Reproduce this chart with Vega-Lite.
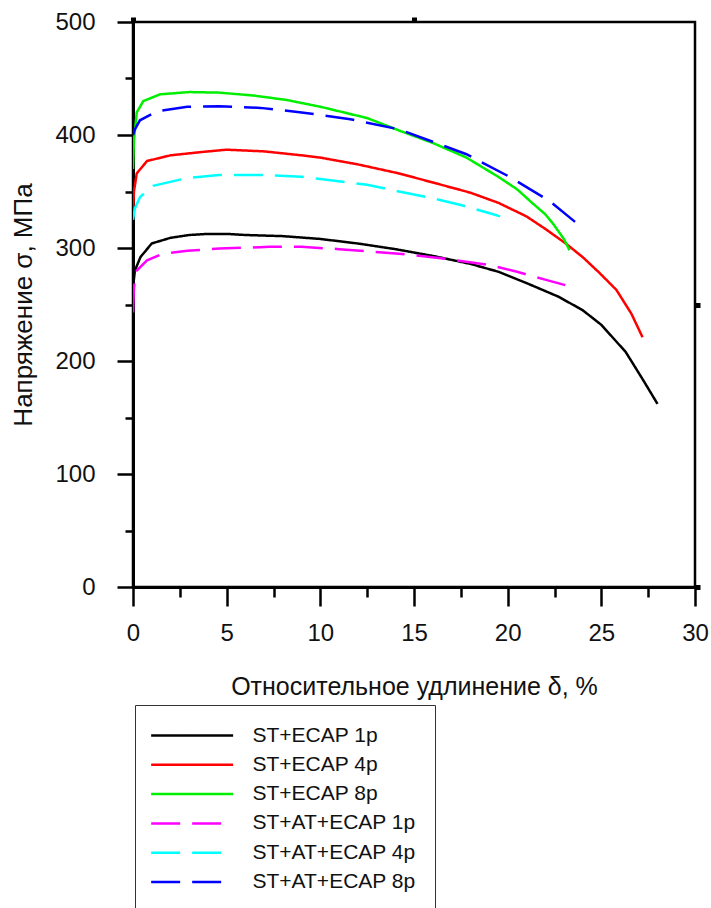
{
  "$schema": "https://vega.github.io/schema/vega-lite/v6.json",
  "autosize": {"type": "none"},
  "padding": {"left": 133, "top": 22, "right": 16, "bottom": 321},
  "width": 562,
  "height": 565,
  "background": "white",
  "config": {
    "view": {"stroke": "black", "strokeWidth": 2.5},
    "font": "Liberation Sans"
  },
  "data": {"values": [
    {"s": "ST+ECAP 1p", "x": 0, "y": 265}, {"s": "ST+ECAP 1p", "x": 0.1, "y": 280}, {"s": "ST+ECAP 1p", "x": 0.4, "y": 292}, {"s": "ST+ECAP 1p", "x": 1, "y": 304}, {"s": "ST+ECAP 1p", "x": 2, "y": 309}, {"s": "ST+ECAP 1p", "x": 3, "y": 311.5}, {"s": "ST+ECAP 1p", "x": 4, "y": 312.5}, {"s": "ST+ECAP 1p", "x": 5, "y": 312.5}, {"s": "ST+ECAP 1p", "x": 6, "y": 311.5}, {"s": "ST+ECAP 1p", "x": 8, "y": 310.5}, {"s": "ST+ECAP 1p", "x": 10, "y": 308}, {"s": "ST+ECAP 1p", "x": 12, "y": 304}, {"s": "ST+ECAP 1p", "x": 14, "y": 299}, {"s": "ST+ECAP 1p", "x": 16, "y": 293}, {"s": "ST+ECAP 1p", "x": 18, "y": 286}, {"s": "ST+ECAP 1p", "x": 19.5, "y": 279}, {"s": "ST+ECAP 1p", "x": 21, "y": 269}, {"s": "ST+ECAP 1p", "x": 22.7, "y": 257}, {"s": "ST+ECAP 1p", "x": 24, "y": 245}, {"s": "ST+ECAP 1p", "x": 25, "y": 232}, {"s": "ST+ECAP 1p", "x": 26.3, "y": 208}, {"s": "ST+ECAP 1p", "x": 27.2, "y": 184}, {"s": "ST+ECAP 1p", "x": 28, "y": 162},
    {"s": "ST+ECAP 4p", "x": 0, "y": 330}, {"s": "ST+ECAP 4p", "x": 0.05, "y": 350}, {"s": "ST+ECAP 4p", "x": 0.2, "y": 366}, {"s": "ST+ECAP 4p", "x": 0.75, "y": 377}, {"s": "ST+ECAP 4p", "x": 2, "y": 382}, {"s": "ST+ECAP 4p", "x": 3.7, "y": 385}, {"s": "ST+ECAP 4p", "x": 5, "y": 387}, {"s": "ST+ECAP 4p", "x": 7, "y": 385.5}, {"s": "ST+ECAP 4p", "x": 9, "y": 382}, {"s": "ST+ECAP 4p", "x": 10, "y": 380}, {"s": "ST+ECAP 4p", "x": 12, "y": 374}, {"s": "ST+ECAP 4p", "x": 14.2, "y": 366}, {"s": "ST+ECAP 4p", "x": 16, "y": 358}, {"s": "ST+ECAP 4p", "x": 18, "y": 349}, {"s": "ST+ECAP 4p", "x": 19.5, "y": 340}, {"s": "ST+ECAP 4p", "x": 21, "y": 328}, {"s": "ST+ECAP 4p", "x": 22, "y": 317}, {"s": "ST+ECAP 4p", "x": 23.1, "y": 304}, {"s": "ST+ECAP 4p", "x": 24, "y": 292}, {"s": "ST+ECAP 4p", "x": 24.9, "y": 278}, {"s": "ST+ECAP 4p", "x": 25.8, "y": 263}, {"s": "ST+ECAP 4p", "x": 26.6, "y": 242}, {"s": "ST+ECAP 4p", "x": 27.2, "y": 221},
    {"s": "ST+ECAP 8p", "x": 0, "y": 370}, {"s": "ST+ECAP 8p", "x": 0.05, "y": 395}, {"s": "ST+ECAP 8p", "x": 0.2, "y": 420}, {"s": "ST+ECAP 8p", "x": 0.55, "y": 430}, {"s": "ST+ECAP 8p", "x": 1.45, "y": 436}, {"s": "ST+ECAP 8p", "x": 3, "y": 438}, {"s": "ST+ECAP 8p", "x": 4.6, "y": 437.5}, {"s": "ST+ECAP 8p", "x": 6.4, "y": 435}, {"s": "ST+ECAP 8p", "x": 8.2, "y": 431}, {"s": "ST+ECAP 8p", "x": 10, "y": 425}, {"s": "ST+ECAP 8p", "x": 12.5, "y": 415}, {"s": "ST+ECAP 8p", "x": 14.2, "y": 404}, {"s": "ST+ECAP 8p", "x": 16, "y": 393}, {"s": "ST+ECAP 8p", "x": 17.8, "y": 380}, {"s": "ST+ECAP 8p", "x": 19.5, "y": 363}, {"s": "ST+ECAP 8p", "x": 20.5, "y": 352}, {"s": "ST+ECAP 8p", "x": 21.3, "y": 340}, {"s": "ST+ECAP 8p", "x": 22, "y": 330}, {"s": "ST+ECAP 8p", "x": 22.4, "y": 322}, {"s": "ST+ECAP 8p", "x": 23, "y": 308}, {"s": "ST+ECAP 8p", "x": 23.3, "y": 298},
    {"s": "ST+AT+ECAP 1p", "x": 0, "y": 243}, {"s": "ST+AT+ECAP 1p", "x": 0.05, "y": 265}, {"s": "ST+AT+ECAP 1p", "x": 0.2, "y": 280}, {"s": "ST+AT+ECAP 1p", "x": 0.75, "y": 289}, {"s": "ST+AT+ECAP 1p", "x": 1.6, "y": 295}, {"s": "ST+AT+ECAP 1p", "x": 2.9, "y": 297.5}, {"s": "ST+AT+ECAP 1p", "x": 4.6, "y": 299.5}, {"s": "ST+AT+ECAP 1p", "x": 7.3, "y": 301}, {"s": "ST+AT+ECAP 1p", "x": 9, "y": 301}, {"s": "ST+AT+ECAP 1p", "x": 11, "y": 299}, {"s": "ST+AT+ECAP 1p", "x": 12.5, "y": 297}, {"s": "ST+AT+ECAP 1p", "x": 14.2, "y": 295}, {"s": "ST+AT+ECAP 1p", "x": 16.9, "y": 290}, {"s": "ST+AT+ECAP 1p", "x": 19, "y": 285}, {"s": "ST+AT+ECAP 1p", "x": 20.5, "y": 279}, {"s": "ST+AT+ECAP 1p", "x": 22, "y": 272}, {"s": "ST+AT+ECAP 1p", "x": 23.1, "y": 267},
    {"s": "ST+AT+ECAP 4p", "x": 0, "y": 325}, {"s": "ST+AT+ECAP 4p", "x": 0.1, "y": 335}, {"s": "ST+AT+ECAP 4p", "x": 0.37, "y": 345}, {"s": "ST+AT+ECAP 4p", "x": 1.07, "y": 355}, {"s": "ST+AT+ECAP 4p", "x": 2.9, "y": 362}, {"s": "ST+AT+ECAP 4p", "x": 4.6, "y": 364.5}, {"s": "ST+AT+ECAP 4p", "x": 7.3, "y": 364.5}, {"s": "ST+AT+ECAP 4p", "x": 9, "y": 363}, {"s": "ST+AT+ECAP 4p", "x": 10, "y": 361}, {"s": "ST+AT+ECAP 4p", "x": 12.5, "y": 356}, {"s": "ST+AT+ECAP 4p", "x": 14.2, "y": 350}, {"s": "ST+AT+ECAP 4p", "x": 16, "y": 344}, {"s": "ST+AT+ECAP 4p", "x": 17.5, "y": 338}, {"s": "ST+AT+ECAP 4p", "x": 19, "y": 331}, {"s": "ST+AT+ECAP 4p", "x": 19.6, "y": 328},
    {"s": "ST+AT+ECAP 8p", "x": 0, "y": 400}, {"s": "ST+AT+ECAP 8p", "x": 0.1, "y": 405}, {"s": "ST+AT+ECAP 8p", "x": 0.37, "y": 413}, {"s": "ST+AT+ECAP 8p", "x": 1.3, "y": 421}, {"s": "ST+AT+ECAP 8p", "x": 2.9, "y": 425}, {"s": "ST+AT+ECAP 8p", "x": 4.6, "y": 425.5}, {"s": "ST+AT+ECAP 8p", "x": 6.8, "y": 424}, {"s": "ST+AT+ECAP 8p", "x": 9, "y": 420}, {"s": "ST+AT+ECAP 8p", "x": 11.6, "y": 414}, {"s": "ST+AT+ECAP 8p", "x": 14.2, "y": 405}, {"s": "ST+AT+ECAP 8p", "x": 16, "y": 394}, {"s": "ST+AT+ECAP 8p", "x": 17.8, "y": 383}, {"s": "ST+AT+ECAP 8p", "x": 20.1, "y": 363}, {"s": "ST+AT+ECAP 8p", "x": 22.2, "y": 342}, {"s": "ST+AT+ECAP 8p", "x": 23.9, "y": 319}
  ]},
  "layer": [
    {
      "mark": {"type": "line", "strokeWidth": 2.5, "clip": true},
      "encoding": {
        "x": {
          "field": "x", "type": "quantitative",
          "scale": {"domain": [0, 30], "nice": false, "zero": false},
          "axis": {
            "title": "Относительное удлинение δ, %",
            "titleFont": "Liberation Sans", "titleFontSize": 25, "titleFontWeight": "normal", "titleColor": "#111",
            "titlePadding": 29,
            "values": [0, 2.5, 5, 7.5, 10, 12.5, 15, 17.5, 20, 22.5, 25, 27.5, 30],
            "labelExpr": "datum.value % 5 === 0 ? datum.label : ''",
            "labelFont": "Liberation Sans", "labelFontSize": 24, "labelColor": "#111",
            "labelPadding": 15, "labelFlush": false, "labelOverlap": false,
            "grid": false, "domainColor": "black", "domainWidth": 3,
            "tickColor": "black", "tickWidth": 2.5,
            "tickSize": {"condition": {"test": "datum.value % 5 === 0", "value": 19}, "value": 10}
          }
        },
        "y": {
          "field": "y", "type": "quantitative",
          "scale": {"domain": [0, 500], "nice": false},
          "axis": {
            "title": "Напряжение σ, МПа",
            "titleFont": "Liberation Sans", "titleFontSize": 26, "titleFontWeight": "normal", "titleColor": "#111",
            "titlePadding": 18,
            "values": [0, 50, 100, 150, 200, 250, 300, 350, 400, 450, 500],
            "labelExpr": "datum.value % 100 === 0 ? datum.label : ''",
            "labelFont": "Liberation Sans", "labelFontSize": 24, "labelColor": "#111",
            "labelPadding": 22, "labelFlush": false, "labelOverlap": false,
            "grid": false, "domainColor": "black", "domainWidth": 3,
            "tickColor": "black", "tickWidth": 2.5,
            "tickSize": {"condition": {"test": "datum.value % 100 === 0", "value": 16}, "value": 8}
          }
        },
        "color": {
          "field": "s", "type": "nominal",
          "scale": {
            "domain": ["ST+ECAP 1p", "ST+ECAP 4p", "ST+ECAP 8p", "ST+AT+ECAP 1p", "ST+AT+ECAP 4p", "ST+AT+ECAP 8p"],
            "range": ["#000000", "#ff0000", "#00ee00", "#ff00ff", "#00ffff", "#0000ff"]
          },
          "legend": {
            "title": null, "orient": "none", "legendX": 2, "legendY": 683,
            "symbolType": "M-1.4,0H6.6", "symbolSize": 420, "symbolStrokeWidth": 2.5,
            "labelFont": "Liberation Sans", "labelFontSize": 21, "labelColor": "#111", "labelOffset": 75.5, "labelLimit": 400,
            "strokeColor": "#333", "fillColor": "white", "padding": 19, "rowPadding": 7.3
          }
        },
        "strokeDash": {
          "field": "s", "type": "nominal",
          "scale": {
            "domain": ["ST+ECAP 1p", "ST+ECAP 4p", "ST+ECAP 8p", "ST+AT+ECAP 1p", "ST+AT+ECAP 4p", "ST+AT+ECAP 8p"],
            "range": [[1, 0], [1, 0], [1, 0], [29, 12], [29, 12], [29, 12]]
          },
          "legend": {
            "title": null, "orient": "none", "legendX": 2, "legendY": 683,
            "symbolType": "M-1.4,0H6.6", "symbolSize": 420, "symbolStrokeWidth": 2.5,
            "labelFont": "Liberation Sans", "labelFontSize": 21, "labelColor": "#111", "labelOffset": 75.5, "labelLimit": 400,
            "strokeColor": "#333", "fillColor": "white", "padding": 19, "rowPadding": 7.3
          }
        }
      }
    },
    {
      "mark": {"type": "line", "opacity": 0},
      "encoding": {
        "x": {"field": "x", "type": "quantitative", "axis": {"orient": "top", "values": [0, 15], "labels": false, "domain": false, "grid": false, "title": null, "tickSize": 5, "tickWidth": 5, "tickColor": "black"}},
        "y": {"field": "y", "type": "quantitative", "axis": {"orient": "right", "values": [0, 250], "labels": false, "domain": false, "grid": false, "title": null, "tickSize": 5, "tickWidth": 5, "tickColor": "black"}}
      }
    }
  ],
  "resolve": {"axis": {"x": "independent", "y": "independent"}}
}
